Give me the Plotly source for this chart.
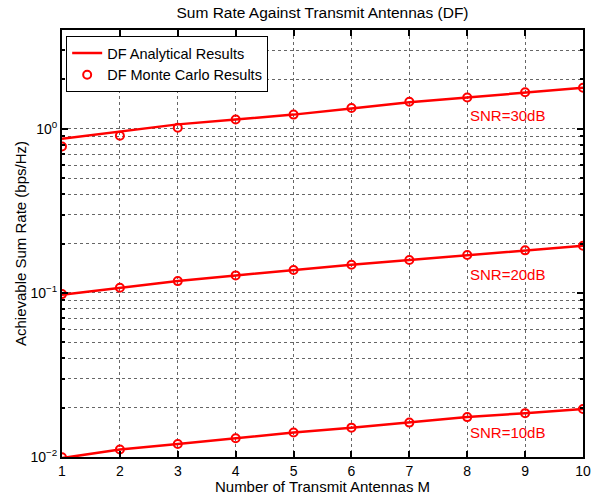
import math
import plotly.graph_objects as go

M = [1, 2, 3, 4, 5, 6, 7, 8, 9, 10]

ana_30 = [0.87, 0.966, 1.064, 1.14, 1.22, 1.33, 1.45, 1.55, 1.66, 1.78]
mc_30 = [0.78, 0.906, 1.015, 1.14, 1.22, 1.34, 1.46, 1.55, 1.67, 1.78]

ana_20 = [0.0975, 0.1076, 0.118, 0.1278, 0.138, 0.1486, 0.1585, 0.170, 0.1816, 0.194]
mc_20 = [0.0983, 0.1076, 0.118, 0.1278, 0.138, 0.1486, 0.1585, 0.170, 0.1816, 0.194]

ana_10 = [0.00985, 0.0111, 0.0120, 0.0130, 0.0141, 0.0151, 0.0162, 0.0175, 0.0185, 0.0196]
mc_10 = [0.00995, 0.0111, 0.0120, 0.0130, 0.0141, 0.0151, 0.0162, 0.0175, 0.0185, 0.0196]

snr_labels = ["SNR=30dB", "SNR=20dB", "SNR=10dB"]
snr_label_x = [8.7, 8.69, 8.7]
snr_label_y = [1.21, 0.130, 0.0141]

ytick_vals = [0.01, 0.1, 1]
ytick_text = ["10<sup>−2</sup>", "10<sup>−1</sup>", "10<sup>0</sup>"]
yminor_vals = [m * d for d in (0.01, 0.1, 1) for m in range(2, 10) if m * d <= 4]

RED = "#ff0000"
FONT = "Liberation Sans, Arial, Helvetica, sans-serif"

fig = go.Figure()

ana_sets = [ana_30, ana_20, ana_10]
mc_sets = [mc_30, mc_20, mc_10]
for i, a in enumerate(ana_sets):
    fig.add_trace(go.Scatter(
        x=M, y=a, mode="lines", line=dict(color=RED, width=2.5),
        name="DF Analytical Results", showlegend=(i == 0), legendrank=1,
    ))
for i, m in enumerate(mc_sets):
    fig.add_trace(go.Scatter(
        x=M, y=m, mode="markers",
        marker=dict(symbol="circle-open", color=RED, size=8, line=dict(width=2, color=RED)),
        name="DF Monte Carlo Results", showlegend=(i == 0), legendrank=2,
    ))

for txt, xv, yv in zip(snr_labels, snr_label_x, snr_label_y):
    fig.add_annotation(
        x=xv, y=math.log10(yv), yref="y", xref="x", text=txt, showarrow=False,
        xanchor="center", yanchor="middle",
        font=dict(color=RED, size=15, family=FONT),
    )

fig.update_layout(
    width=591, height=495,
    margin=dict(l=62, r=8, t=30, b=38, autoexpand=False),
    paper_bgcolor="white", plot_bgcolor="white",
    font=dict(family=FONT, size=15, color="black"),
    title=dict(text="Sum Rate Against Transmit Antennas (DF)", x=0.5, xref="paper",
               xanchor="center", y=0.974, yanchor="middle",
               font=dict(size=15.5, color="black")),
    legend=dict(
        x=0.008, y=0.986, xanchor="left", yanchor="top",
        bgcolor="white", bordercolor="black", borderwidth=1,
        font=dict(size=14.5), itemwidth=30, tracegroupgap=0,
    ),
    showlegend=True,
)

fig.update_xaxes(
    range=[1, 10], tickmode="array", tickvals=M, ticktext=[str(v) for v in M],
    showline=True, linecolor="black", linewidth=2, mirror="allticks",
    ticks="inside", ticklen=6, tickcolor="black", tickwidth=1.5,
    showgrid=True, gridcolor="#666666", griddash="dot", gridwidth=1,
    zeroline=False, automargin=False,
    title=dict(text="Number of Transmit Antennas M", standoff=0, font=dict(size=15)),
    tickfont=dict(size=14),
)

fig.update_yaxes(
    type="log", range=[-2, 0.602],
    tickmode="array", tickvals=ytick_vals, ticktext=ytick_text,
    showline=True, linecolor="black", linewidth=2, mirror="allticks",
    ticks="inside", ticklen=6, tickcolor="black", tickwidth=1.5,
    showgrid=True, gridcolor="#666666", griddash="dot", gridwidth=1,
    zeroline=False, automargin=False,
    minor=dict(tickmode="array", tickvals=yminor_vals, ticks="inside", ticklen=3,
               tickcolor="black", showgrid=True, gridcolor="#666666",
               griddash="dot", gridwidth=1),
    title=dict(text="Achievable Sum Rate (bps/Hz)", standoff=0, font=dict(size=15)),
    tickfont=dict(size=14),
)

fig.write_html("out.html", config={"displayModeBar": False},
               post_script="document.body.style.margin='0';")
